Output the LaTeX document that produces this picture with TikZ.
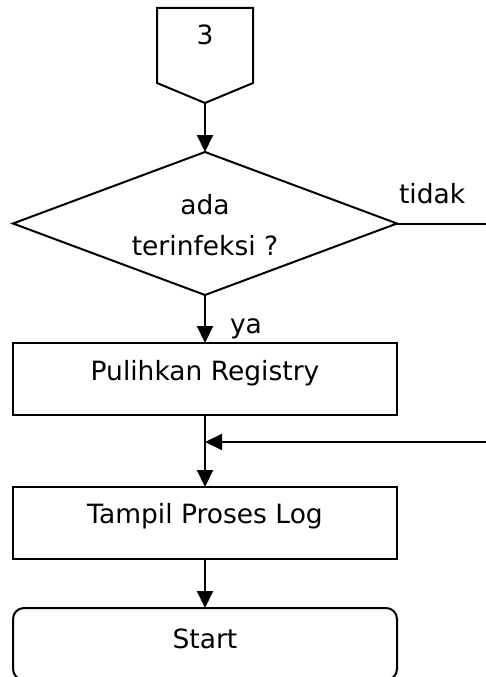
\documentclass[tikz,border=0pt]{standalone}
\usepackage{fontspec}
\setmainfont{DejaVu Sans}
\usetikzlibrary{arrows.meta,shapes.geometric}
\begin{document}
\begin{tikzpicture}[x=1pt,y=-1pt,
  line width=2pt,
  txt/.style={font=\fontsize{26.5}{31}\selectfont, inner sep=0pt},
  box/.style={draw, minimum width=384pt, minimum height=72pt, inner sep=0pt, outer sep=0pt},
  arr/.style={-{Triangle[length=17pt,width=16pt]}},
]
\clip (0,0) rectangle (486,677);
\useasboundingbox (0,0) rectangle (486,677);

% off-page connector "3"
\draw (157,8) -- (253,8) -- (253,83) -- (205,103) -- (157,83) -- cycle;
\coordinate (conn) at (205,103);
\node[txt, anchor=base] (n3) at (205,45) {3};

% decision
\node[draw, diamond, minimum width=384pt, minimum height=143pt, inner sep=0pt, outer sep=0pt] (dec) at (205,223.5) {};
\node[txt, anchor=base] (q1) at (205,214) {ada};
\node[txt, anchor=base] (q2) at (205,255) {terinfeksi ?};

% process boxes
\node[box] (reg) at (205,379) {};
\node[txt, anchor=base] (regt) at (205,380) {Pulihkan Registry};
\node[box] (log) at (205,523) {};
\node[txt, anchor=base] (logt) at (205,523) {Tampil Proses Log};
\node[box, rounded corners=11pt] (start) at (205,644) {};
\node[txt, anchor=base] (startt) at (205,648) {Start};

% connectors
\coordinate (tR) at (486,223.5);
\coordinate (tIn) at (486,442);
\draw[arr] (conn) -- (dec.north);
\draw (dec.east) -- (tR);
\node[txt, anchor=base west] (tidak) at (398,203) {tidak};
\draw[arr] (dec.south) -- (reg.north);
\node[txt, anchor=base west] (ya) at (229,333) {ya};
\draw[arr] (reg.south) -- (log.north);
\draw[arr] (tIn) -- (reg.south |- tIn);
\draw[arr] (log.south) -- (start.north);
\end{tikzpicture}
\end{document}
